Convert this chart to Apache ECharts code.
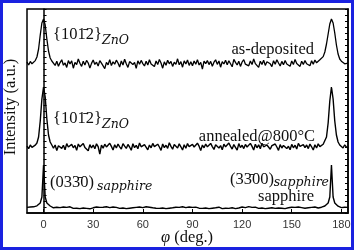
<!DOCTYPE html>
<html>
<head>
<meta charset="utf-8">
<script src="https://cdn.jsdelivr.net/npm/echarts@6/dist/echarts.min.js"></script>
<style>
    html, body { margin: 0; padding: 0; background: #fff; }
    #chart { width: 354px; height: 250px; }
</style>
</head>
<body>
<div id="chart"></div>
<script>
const phiStart = -10
const phiStep = 1
const phiTicks = [0, 30, 60, 90, 120, 150, 180]

const asDeposited = [
    75.5, 74, 75.8, 74.6, 75.4, 76.2, 78, 82, 89, 95,
    97, 94, 87, 81, 77.5, 76, 75, 73.8, 75.9, 73.4,
    75.2, 76.6, 73.9, 75, 72.8, 76.2, 74.5, 76.1, 72.4, 75.3,
    74.2, 77, 74.9, 73.3, 75.9, 74, 76.3, 75, 72.5, 74.8,
    76.5, 74.3, 75.4, 73.5, 76.2, 74.9, 75.8, 72.2, 75.3, 74.1,
    76.7, 73.7, 75.6, 74.4, 76.4, 75, 73, 76, 74, 76.9,
    74.6, 72.8, 75.7, 76.5, 74.2, 75.3, 72.3, 76.1, 74.4, 76.3,
    74.7, 73.5, 75.9, 74, 76.6, 74.5, 75.5, 73.2, 76, 74.2,
    76.8, 75, 72.4, 75.6, 73.9, 76.4, 74.6, 75.8, 73.3, 75.4,
    74.3, 77.1, 74.1, 75.7, 72.9, 76.1, 74.5, 76.5, 73.8, 75.6,
    73.6, 76, 74.4, 76.7, 74, 75.3, 72, 75.9, 74.7, 76.2,
    74.2, 75.8, 73.4, 75.4, 76.6, 74.3, 76, 72.9, 75.7, 74.5,
    76.4, 74.1, 76.1, 74.6, 73.1, 76.8, 75.3, 74, 75.9, 73.3,
    75.5, 76.7, 74.4, 75.4, 73.6, 76, 74.2, 77, 74.7, 75.7,
    72.8, 75.9, 74.3, 76.4, 73.8, 75.6, 76.5, 74.6, 73.2, 76.1,
    74.4, 76.6, 75, 73.5, 75.8, 74.1, 76.3, 74.5, 75.5, 73.4,
    76, 74.2, 76.8, 74.7, 75.4, 73.3, 75.9, 74.3, 76.2, 74.6,
    75.6, 73.6, 76.1, 74.4, 76.5, 75.1, 75.8, 76.6, 77.2, 78.2,
    80.5, 84.5, 89.5, 94.5, 97, 95, 90, 84, 79.5, 77,
    75.9, 75.2, 74.6, 75.4, 74.9
]

const annealed = [
    33.4, 32.2, 34, 32.8, 33.6, 33.9, 35, 38, 46, 57,
    63, 58, 47, 39, 35.5, 34, 32.4, 34, 31.2, 33.6,
    34.4, 32.3, 33.9, 31.6, 34.7, 33, 32.2, 34.3, 32.6, 33.8,
    31.3, 34.5, 33.1, 32.3, 34.8, 32.7, 33.7, 31.1, 34.2, 32.5,
    34, 32.1, 34.6, 33.2, 29.5, 33.9, 32.4, 34.4, 33, 32.2,
    34.9, 33.3, 31.5, 34.1, 32.5, 34.5, 33.1, 32, 34.7, 33.4,
    32.3, 34.3, 33, 31.4, 34.6, 32.7, 33.8, 32.1, 35, 33.1,
    32.4, 34.2, 33.5, 31.6, 34, 32.6, 34.8, 33.2, 32.2, 34.4,
    33, 31.3, 34.5, 32.7, 33.9, 32.3, 35.1, 33.3, 31.9, 34.2,
    33.8, 32.5, 34.6, 33.1, 31.5, 34.1, 32.4, 34.7, 33.2, 32.2,
    34.3, 33, 32.1, 34.9, 33.4, 31.2, 34, 32.6, 34.5, 33.1,
    32.3, 34.8, 33.2, 31.8, 34.1, 34.6, 32.5, 33.7, 31.6, 34.4,
    33.1, 32.4, 35, 33.3, 32, 34.2, 33.8, 31.4, 34.7, 32.7,
    33.9, 32.2, 34.3, 33, 32.3, 34.8, 33.3, 31.5, 34.4, 32.6,
    34.1, 32.1, 34.9, 33.1, 32.4, 34, 34.6, 31.9, 33.7, 32.7,
    34.5, 33, 31.3, 34.2, 32.5, 33.8, 34.7, 32.2, 33.4, 31.6,
    34.3, 32.6, 33.9, 32, 34.8, 33.3, 32.3, 34.2, 32.7, 34,
    32.2, 34.5, 33.1, 31.5, 34.1, 32.5, 34.6, 33.2, 33.8, 34.4,
    35.2, 38, 45, 56, 63, 57, 46, 39, 35.5, 34,
    33.2, 32.5, 34.1, 33, 32.6
]

const sapphire = [
    2.8, 2.2, 3, 2.5, 3.1, 3.3, 3.6, 4.1, 5, 8,
    24, 8, 5, 4, 3.5, 3, 2.6, 2.2, 2.9, 2.4,
    2.7, 2.1, 3, 2.4, 2.8, 2.2, 3.1, 2.5, 2.3, 2.9,
    2.4, 3, 2.2, 2.7, 2.5, 3.2, 2.3, 2.8, 2.1, 2.9,
    2.6, 2.2, 3, 2.4, 2.8, 2.3, 2.9, 2.5, 3.1, 2.2,
    2.7, 2.4, 3, 2.2, 2.8, 2.6, 2.3, 3.1, 2.5, 2.7,
    2.2, 2.9, 2.4, 3, 2.6, 2.3, 2.8, 2.2, 3, 2.5,
    2.7, 2.3, 3.1, 2.4, 2.9, 2.2, 2.6, 3, 2.4, 2.8,
    2.3, 2.9, 2.5, 3.2, 2.2, 2.7, 2.4, 3, 2.6, 2.3,
    2.9, 2.4, 2.8, 2.2, 3.1, 2.5, 2.7, 2.3, 3, 2.4,
    2.8, 2.2, 2.9, 2.6, 2.4, 3.1, 2.3, 2.7, 2.5, 3,
    2.2, 2.8, 2.4, 3, 2.6, 2.3, 2.9, 2.5, 2.2, 3.1,
    2.4, 2.7, 2.3, 2.9, 2.6, 3, 2.2, 2.8, 2.5, 2.4,
    3, 2.3, 2.7, 2.5, 3.2, 2.4, 2.8, 2.2, 2.9, 2.6,
    2.3, 3, 2.5, 2.7, 2.2, 2.9, 2.4, 3.1, 2.6, 2.8,
    2.3, 2.9, 2.5, 3, 2.4, 2.7, 2.2, 3.1, 2.6, 2.4,
    2.9, 2.3, 2.8, 2.5, 3, 2.2, 2.7, 2.9, 2.4, 3.1,
    2.6, 2.3, 2.8, 2.5, 3, 2.7, 2.5, 2.8, 2.9, 3.1,
    3.5, 4, 5, 8, 24, 8, 5, 4, 3.4, 3,
    2.7, 2.4, 2.9, 2.5, 2.8
]

const serif = '"Liberation Serif", "DejaVu Serif", serif'
const subFont = '"DejaVu Serif", serif'

function toPairs(values) {
    return values.map((v, i) => [phiStart + i * phiStep, v])
}

function label(text, x, y, opts) {
    return {
        type: 'text',
        z: 100,
        x: x,
        y: y,
        style: Object.assign({
            text: text,
            fill: '#111',
            font: '16.5px ' + serif,
            align: 'left',
            verticalAlign: 'middle'
        }, opts || {})
    }
}

function sub(text, x, y, opts) {
    return label(text, x, y, Object.assign({font: 'italic 12.5px ' + subFont}, opts || {}))
}

let chart = echarts.init(document.getElementById('chart'), null, {renderer: 'canvas'})

let lineSeries = (name, values, width) => ({
    name: name,
    type: 'line',
    data: toPairs(values),
    showSymbol: false,
    symbol: 'none',
    silent: true,
    lineStyle: {color: '#000', width: width},
    z: 5
})

chart.setOption({
    animation: false,
    backgroundColor: '#fff',
    grid: {
        left: 27, top: 9, right: 6, bottom: 37,
        show: true,
        borderColor: '#000',
        borderWidth: 1.5
    },
    xAxis: {
        type: 'value',
        min: -10,
        max: 184,
        axisLine: {show: true, lineStyle: {color: '#000', width: 1.5}},
        axisTick: {show: true, inside: true, length: 4, customValues: phiTicks, lineStyle: {color: '#000'}},
        axisLabel: {
            customValues: phiTicks,
            margin: 6,
            fontSize: 11,
            fontFamily: '"Liberation Sans", Arial, sans-serif',
            color: '#333'
        },
        splitLine: {show: false}
    },
    yAxis: [
        {
            type: 'value',
            min: 0,
            max: 102,
            interval: 3,
            axisLine: {show: true, lineStyle: {color: '#000', width: 1.5}},
            axisTick: {show: true, inside: true, length: 3, lineStyle: {color: '#000'}},
            axisLabel: {show: false},
            splitLine: {show: false}
        },
        {
            type: 'value',
            position: 'right',
            min: 0,
            max: 102,
            interval: 3,
            axisLine: {show: true, lineStyle: {color: '#000', width: 1.5}},
            axisTick: {show: true, inside: true, length: 3, lineStyle: {color: '#000'}},
            axisLabel: {show: false},
            splitLine: {show: false}
        }
    ],
    series: [
        lineSeries('as-deposited', asDeposited, 1.3),
        lineSeries('annealed@800°C', annealed, 1.4),
        lineSeries('sapphire', sapphire, 1.4)
    ],
    graphic: [
        // blue frame round the whole figure
        {
            type: 'rect',
            z: 200,
            shape: {x: 1.5, y: 1.5, width: 351, height: 247},
            style: {fill: 'none', stroke: '#1a22e0', lineWidth: 3}
        },
        label('{10' + '1\u0304' + '2}', 53, 34.5),
        sub('ZnO', 102, 41),
        label('as-deposited', 314, 50, {align: 'right'}),
        label('{10' + '1\u0304' + '2}', 53, 119),
        sub('ZnO', 102, 125),
        label('annealed@800°C', 315, 136.5, {align: 'right'}),
        label('(03' + '3\u0304' + '0)', 50, 182.5),
        sub('sapphire', 97, 187),
        label('(3' + '3\u0304' + '00)', 274, 179.5, {align: 'right'}),
        sub('sapphire', 329, 183, {align: 'right'}),
        label('sapphire', 314, 196.5, {align: 'right'}),
        {
            type: 'text',
            z: 100,
            x: 11,
            y: 107,
            rotation: Math.PI / 2,
            style: {
                text: 'Intensity (a.u.)',
                fill: '#111',
                font: '16.5px ' + serif,
                align: 'center',
                verticalAlign: 'middle'
            }
        },
        {
            type: 'text',
            z: 100,
            x: 187,
            y: 238,
            style: {
                text: '{i|φ} (deg.)',
                fill: '#111',
                font: '16.5px ' + serif,
                align: 'center',
                verticalAlign: 'middle',
                rich: {
                    i: {fontStyle: 'italic', fontFamily: serif, fontSize: 16.5, fill: '#111'}
                }
            }
        }
    ]
})
</script>
</body>
</html>
